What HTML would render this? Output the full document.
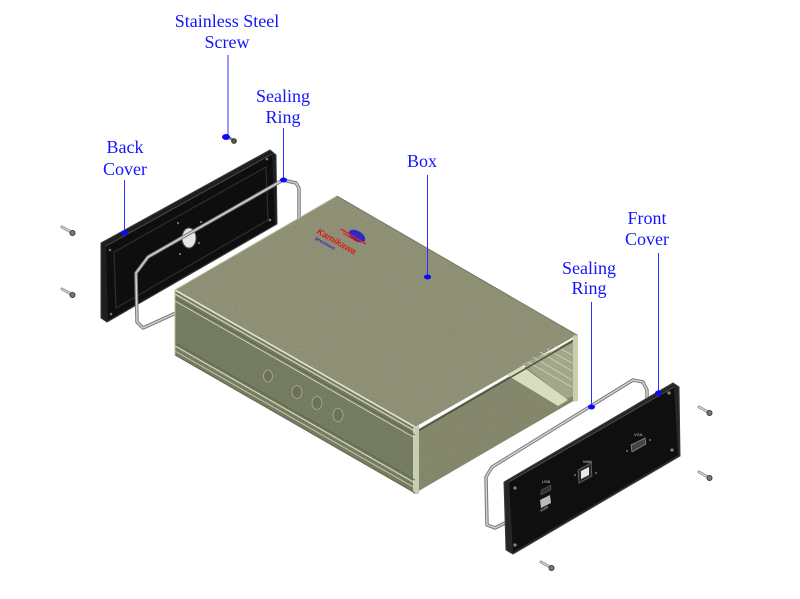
<!DOCTYPE html>
<html><head><meta charset="utf-8"><style>
html,body{margin:0;padding:0;background:#fff;}
svg{display:block;}
.lbl{font-family:"Liberation Serif",serif;font-size:18px;fill:#1414ff;text-anchor:middle;}
</style></head><body>
<svg width="800" height="599" viewBox="0 0 800 599" xmlns="http://www.w3.org/2000/svg">
<defs>
<filter id="spk" x="0" y="0" width="100%" height="100%">
<feTurbulence type="fractalNoise" baseFrequency="0.9" numOctaves="1" seed="3" result="n"/>
<feColorMatrix in="n" type="matrix" values="0 0 0 0 0  0 0 0 0 0  0 0 0 0 0  0 0 0 0.35 -0.05" result="a"/>
<feComposite in="a" in2="SourceGraphic" operator="in" result="b"/>
<feMerge><feMergeNode in="SourceGraphic"/><feMergeNode in="b"/></feMerge>
</filter>
</defs>
<rect width="800" height="599" fill="#fff"/>

<!-- Back cover -->
<polygon points="101,243 270,150 276,155 277,224 107,322 101,318" fill="#1e1e1e" stroke="#3a3a3a" stroke-width="1"/>
<polygon points="106,246 272,154 275,224 108,320" fill="#0e0e0e"/>
<polygon points="114,252 266,167 268,220 116,308" fill="none" stroke="#2e2e2e" stroke-width="1.2"/>
<line x1="106" y1="246" x2="272" y2="154" stroke="#4a4a4a" stroke-width="1"/>
<ellipse cx="189" cy="238" rx="7" ry="10" fill="#e6e6e6" stroke="#555" stroke-width="1"/>
<circle cx="178" cy="223" r="1" fill="#888"/><circle cx="201" cy="222" r="1" fill="#888"/>
<circle cx="180" cy="254" r="1" fill="#888"/><circle cx="199" cy="243" r="1" fill="#888"/>
<circle cx="110" cy="250" r="1.3" fill="#777"/><circle cx="267" cy="159" r="1.3" fill="#777"/>
<circle cx="270" cy="220" r="1.3" fill="#777"/><circle cx="111" cy="314" r="1.3" fill="#777"/>

<!-- Back sealing ring -->
<polyline points="299,222 299,188 296,183 283,180 148,257 136,273 137,322 143,328 178,312" fill="none" stroke="#7c7c7c" stroke-width="3.5" stroke-linejoin="round"/>
<polyline points="299,222 299,188 296,183 283,180 148,257 136,273 137,322 143,328 178,312" fill="none" stroke="#d4d4d4" stroke-width="1.4" stroke-linejoin="round"/>

<!-- Box -->
<polygon points="337,196 577,335 415,427 175,290" fill="#989a7e" filter="url(#spk)"/>
<polygon points="175,290 415,427 415,493 175,355" fill="#7d8468" filter="url(#spk)"/>
<!-- open end -->
<polygon points="417,430 575,338 575,400 417,492" fill="#8d9073" filter="url(#spk)"/>
<polygon points="522,364 573,342 573,396 566,399" fill="#a3a78a"/>
<g stroke="#cfd3b6" stroke-width="0.8">
<line x1="528" y1="362" x2="572" y2="387"/>
<line x1="533" y1="357" x2="572" y2="380"/>
<line x1="540" y1="352" x2="572" y2="371"/>
<line x1="547" y1="349" x2="572" y2="363"/>
<line x1="555" y1="346" x2="572" y2="355"/>
</g>
<polygon points="507,375 522,366 568,400 558,406" fill="#d7ddbd"/>
<line x1="418" y1="431" x2="575" y2="340" stroke="#4e5240" stroke-width="1.5"/>
<polygon points="413,428 419,425 419,494 413,494" fill="#c9cdb2"/>
<polygon points="573,336 578,334 578,401 573,402" fill="#c9cdb2"/>
<!-- edges & grooves -->
<line x1="175" y1="290" x2="415" y2="427" stroke="#e2e5cc" stroke-width="1.6"/>
<line x1="175" y1="290" x2="337" y2="196" stroke="#b6b99c" stroke-width="1"/>
<line x1="337" y1="196" x2="577" y2="335" stroke="#6c705a" stroke-width="0.8"/>
<line x1="175" y1="294" x2="415" y2="431" stroke="#d6dac0" stroke-width="1.2"/>
<line x1="175" y1="298" x2="415" y2="435" stroke="#5f6550" stroke-width="1"/>
<line x1="175" y1="301" x2="415" y2="438" stroke="#cfd3b8" stroke-width="1"/>
<line x1="175" y1="343" x2="415" y2="480" stroke="#5f6550" stroke-width="1"/>
<line x1="175" y1="346" x2="415" y2="483" stroke="#d3d7bd" stroke-width="1.2"/>
<line x1="175" y1="351" x2="415" y2="488" stroke="#c6cab0" stroke-width="1"/>
<line x1="175" y1="355" x2="415" y2="493" stroke="#5a604a" stroke-width="0.8"/>
<line x1="175" y1="290" x2="175" y2="355" stroke="#b8bca0" stroke-width="1"/>
<!-- holes -->
<g fill="#6c7258" stroke="#a9ad92" stroke-width="0.8">
<ellipse cx="268" cy="376" rx="4.5" ry="6"/>
<ellipse cx="297" cy="392" rx="5" ry="6.5"/>
<ellipse cx="317" cy="403" rx="5" ry="6.5"/>
<ellipse cx="338" cy="415" rx="5" ry="6.5"/>
</g>
<!-- logo -->
<g transform="translate(316,233) rotate(30)">
<text x="0" y="0" font-family="Liberation Sans,sans-serif" font-size="9" font-weight="bold" font-style="italic" fill="#d42020">Kamikawa</text>
<text x="2" y="6" font-family="Liberation Sans,sans-serif" font-size="5" font-weight="bold" fill="#2a2ac8">precision</text>
</g>
<ellipse cx="357" cy="236" rx="9" ry="5" fill="#2a2ac8" transform="rotate(30 357 236)"/>
<line x1="341" y1="229" x2="366" y2="244" stroke="#e02020" stroke-width="1.5"/>
<line x1="343" y1="233" x2="358" y2="242" stroke="#e02020" stroke-width="1.2"/>

<!-- Front sealing ring -->
<polyline points="647,402 647,390 643,382 633,380 492,467 486,477 487,525 495,528 509,521" fill="none" stroke="#7c7c7c" stroke-width="3.5" stroke-linejoin="round"/>
<polyline points="647,402 647,390 643,382 633,380 492,467 486,477 487,525 495,528 509,521" fill="none" stroke="#d4d4d4" stroke-width="1.4" stroke-linejoin="round"/>

<!-- Front cover -->
<polygon points="504,482 673,383 679,387 680,456 513,554 506,550" fill="#262626" stroke="#3c3c3c" stroke-width="1"/>
<polygon points="509,482 674,387 678,455 513,552" fill="#0f0f0f"/>
<line x1="509" y1="482" x2="674" y2="387" stroke="#4c4c4c" stroke-width="1"/>
<circle cx="515" cy="488" r="1.6" fill="#7a8a80"/><circle cx="669" cy="393" r="1.6" fill="#7a8a80"/>
<circle cx="672" cy="450" r="1.6" fill="#7a8a80"/><circle cx="515" cy="545" r="1.6" fill="#7a8a80"/>
<!-- ports -->
<text x="542" y="483" font-family="Liberation Sans,sans-serif" font-size="4" fill="#ccc">USB</text>
<polygon points="541,490 551,485 551,490 541,495" fill="#333" stroke="#666" stroke-width="0.5"/>
<polygon points="540,500 550,495 551,503 541,508" fill="#bbb"/>
<text x="541" y="512" font-family="Liberation Sans,sans-serif" font-size="3.5" fill="#ccc" transform="rotate(-30 541 512)">HDMI</text>
<text x="583" y="463" font-family="Liberation Sans,sans-serif" font-size="4" fill="#ccc">WAN</text>
<polygon points="578,470 591,463 592,476 579,483" fill="#2a2a2a" stroke="#777" stroke-width="0.7"/>
<polygon points="581,471 589,467 589,475 581,479" fill="#e8e8e8"/>
<circle cx="575" cy="475" r="1" fill="#777"/><circle cx="596" cy="473" r="1" fill="#777"/>
<text x="634" y="436" font-family="Liberation Sans,sans-serif" font-size="4" fill="#ccc">VGA</text>
<polygon points="631,445 645,438 646,444 632,452" fill="#444" stroke="#999" stroke-width="0.7"/>
<circle cx="627" cy="451" r="1" fill="#777"/><circle cx="650" cy="440" r="1" fill="#777"/>

<!-- Screws -->
<g stroke-linecap="round">
<g transform="translate(68,230)"><line x1="-6" y1="-3" x2="3" y2="2" stroke="#9a9a9a" stroke-width="3"/><line x1="-6" y1="-3" x2="3" y2="2" stroke="#e0e0e0" stroke-width="1"/><circle cx="4.5" cy="3" r="2.6" fill="#777" stroke="#333" stroke-width="0.8"/></g>
<g transform="translate(68,292)"><line x1="-6" y1="-3" x2="3" y2="2" stroke="#9a9a9a" stroke-width="3"/><line x1="-6" y1="-3" x2="3" y2="2" stroke="#e0e0e0" stroke-width="1"/><circle cx="4.5" cy="3" r="2.6" fill="#777" stroke="#333" stroke-width="0.8"/></g>
<g transform="translate(705,410)"><line x1="-6" y1="-3" x2="3" y2="2" stroke="#9a9a9a" stroke-width="3"/><line x1="-6" y1="-3" x2="3" y2="2" stroke="#e0e0e0" stroke-width="1"/><circle cx="4.5" cy="3" r="2.6" fill="#777" stroke="#333" stroke-width="0.8"/></g>
<g transform="translate(705,475)"><line x1="-6" y1="-3" x2="3" y2="2" stroke="#9a9a9a" stroke-width="3"/><line x1="-6" y1="-3" x2="3" y2="2" stroke="#e0e0e0" stroke-width="1"/><circle cx="4.5" cy="3" r="2.6" fill="#777" stroke="#333" stroke-width="0.8"/></g>
<g transform="translate(547,565)"><line x1="-6" y1="-3" x2="3" y2="2" stroke="#9a9a9a" stroke-width="3"/><line x1="-6" y1="-3" x2="3" y2="2" stroke="#e0e0e0" stroke-width="1"/><circle cx="4.5" cy="3" r="2.6" fill="#777" stroke="#333" stroke-width="0.8"/></g>
<g transform="translate(229,138)"><line x1="-3" y1="-2" x2="4" y2="2" stroke="#888" stroke-width="3"/><circle cx="5" cy="3" r="2.4" fill="#555" stroke="#222" stroke-width="0.8"/></g>
</g>

<!-- Labels & leaders -->
<g stroke="#3030ff" stroke-width="1">
<line x1="228" y1="55" x2="228" y2="137"/>
<line x1="283.5" y1="128" x2="283.5" y2="180"/>
<line x1="124.5" y1="180" x2="124.5" y2="233"/>
<line x1="427.5" y1="175" x2="427.5" y2="277"/>
<line x1="591.5" y1="302" x2="591.5" y2="407"/>
<line x1="658.5" y1="253" x2="658.5" y2="393"/>
</g>
<g fill="#0a0aff">
<ellipse cx="226" cy="137" rx="4" ry="3"/>
<ellipse cx="283.5" cy="180" rx="3.5" ry="2.5"/>
<ellipse cx="124.5" cy="233" rx="3.5" ry="2.5"/>
<ellipse cx="427.5" cy="277" rx="3.5" ry="2.5"/>
<ellipse cx="591.5" cy="407" rx="3.5" ry="2.5"/>
<ellipse cx="658.5" cy="393" rx="3.5" ry="2.5"/>
</g>
<text class="lbl" x="227" y="27">Stainless Steel</text>
<text class="lbl" x="227" y="48">Screw</text>
<text class="lbl" x="283" y="102">Sealing</text>
<text class="lbl" x="283" y="123">Ring</text>
<text class="lbl" x="125" y="153">Back</text>
<text class="lbl" x="125" y="175">Cover</text>
<text class="lbl" x="422" y="167">Box</text>
<text class="lbl" x="589" y="274">Sealing</text>
<text class="lbl" x="589" y="294">Ring</text>
<text class="lbl" x="647" y="224">Front</text>
<text class="lbl" x="647" y="245">Cover</text>
</svg>
</body></html>
